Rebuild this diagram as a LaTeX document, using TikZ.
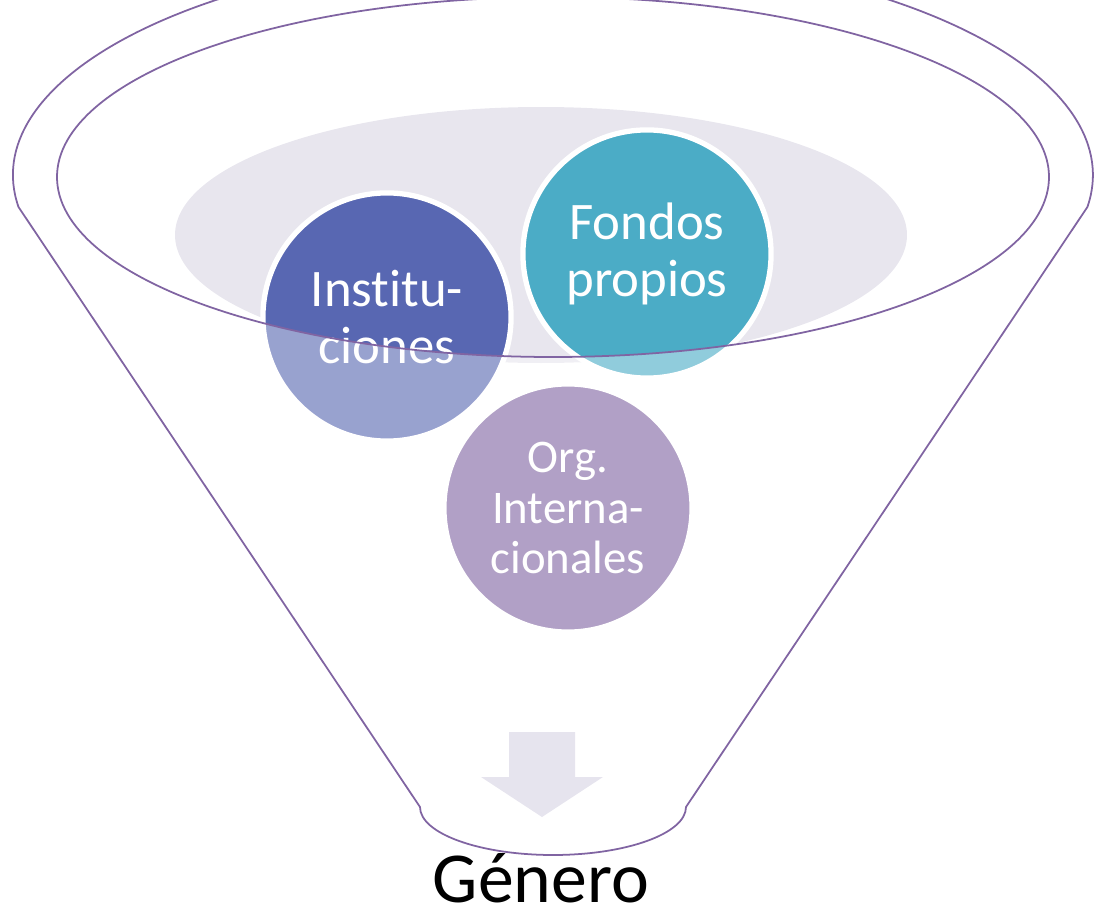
\documentclass[tikz,border=0pt]{standalone}
\usepackage{fontspec}
\setmainfont{Carlito}[Ligatures=NoCommon]
\usepackage{tikz}
\usetikzlibrary{positioning}

\definecolor{funnelline}{HTML}{8064A2}
\definecolor{bowlgray}{HTML}{E8E6EE}
\definecolor{arrowgray}{HTML}{E6E4EE}
\definecolor{instblue}{HTML}{5867B2}
\definecolor{fondteal}{HTML}{4BACC6}
\definecolor{orglav}{HTML}{8064A2}

\begin{document}
\begin{tikzpicture}[
    x=0.01cm, y=-0.01cm,
    bubble/.style={circle, draw=white, line width=1.5pt, inner sep=0pt,
        minimum size=2.48cm, align=center, text=white},
    funnel/.style={draw=funnelline, line width=0.5pt}
]
    \useasboundingbox (0,0) rectangle (1096,912);
    \clip (0,0) rectangle (1096,912);

    % Gray bowl inside the funnel
    \fill[bowlgray] (541,235) ellipse [x radius=366, y radius=128];

    % Circles
    \node[bubble, fill=instblue, font=\fontsize{15}{16.4}\selectfont] (inst) at (387,317) {Institu-\\ciones};
    \node[bubble, fill=fondteal, font=\fontsize{15}{16.4}\selectfont] (fondos) at (647,254) {Fondos\\propios};
    \node[bubble, fill=orglav, font=\fontsize{13.3}{14.4}\selectfont] (org) at (568,508) {Org.\\Interna-\\cionales};

    % Pale front of the funnel (outside the rim)
    \fill[white, opacity=0.39, even odd rule] (0,0) rectangle (1096,912)
        (553,177) ellipse [x radius=496, y radius=180];

    % Rim and body
    \draw[funnel] (553,177) ellipse [x radius=496, y radius=180];
    \draw[funnel] (18.5,207) arc[start angle=171.8, end angle=368.2, x radius=540, y radius=224]
        -- (686,807) arc[start angle=0, end angle=180, x radius=133, y radius=48] -- cycle;

    % Down arrow
    \fill[arrowgray] (509,732) -- (575,732) -- (575,777) -- (603,777) -- (542,817)
        -- (481,777) -- (509,777) -- cycle;

    % Result
    \node[font=\fontsize{20.4}{24}\selectfont, inner sep=0pt, anchor=base] (genero) at (541,902) {Género};
\end{tikzpicture}
\end{document}
